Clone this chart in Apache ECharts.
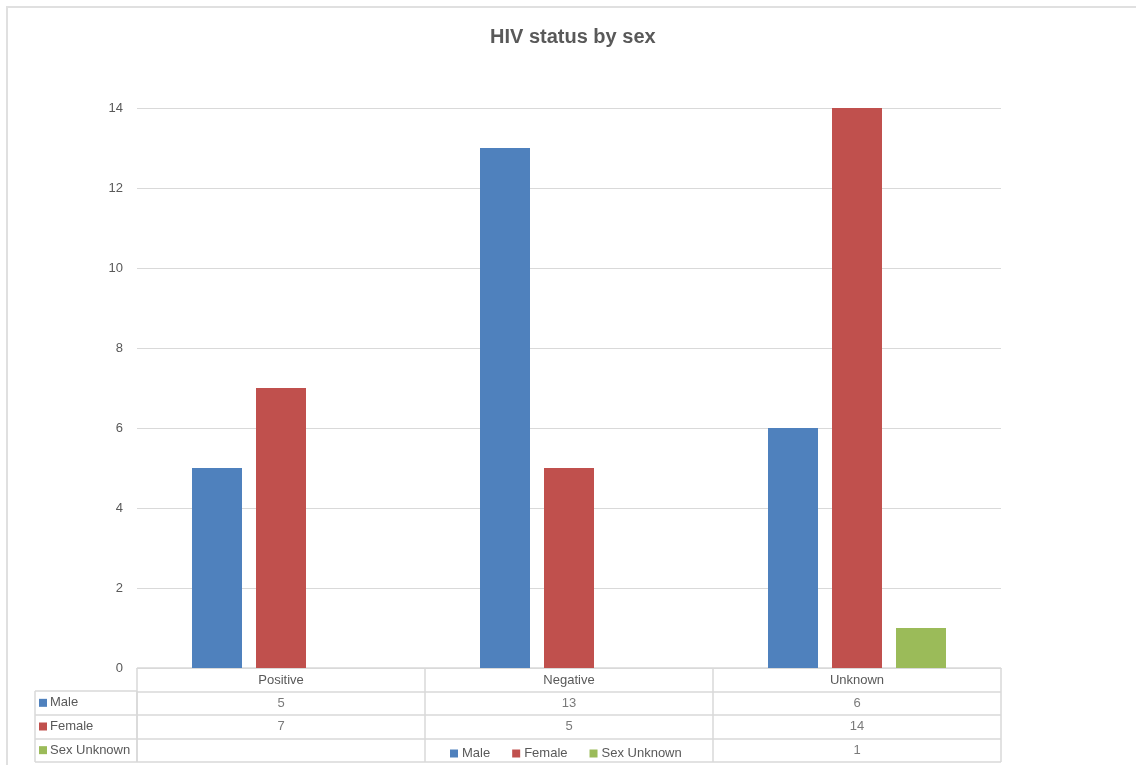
<!DOCTYPE html>
<html>
<head>
<meta charset="utf-8">
<script src="https://cdn.jsdelivr.net/npm/echarts@6/dist/echarts.min.js"></script>
<style>html,body{margin:0;padding:0;background:#fff}#c{width:1136px;height:765px}</style>
</head>
<body>
<div id="c"></div>
<script>
const titleText = 'HIV status by sex';
const categories = ['Positive', 'Negative', 'Unknown'];
const seriesNames = ['Male', 'Female', 'Sex Unknown'];
const male = [5, 13, 6];
const female = [7, 5, 14];
const sexUnknown = [null, null, 1];
const yTicks = [0, 2, 4, 6, 8, 10, 12, 14];

const colors = ['#4f81bd', '#c0504d', '#9bbb59'];
const values = [male, female, sexUnknown];
const txt = '#595959';
const lineC = '#d9d9d9';
const font = 'Liberation Sans';
const fs = 13;

const chart = echarts.init(document.getElementById('c'));

const barSeries = seriesNames.map((n, i) => ({
  name: n, type: 'bar', xAxisIndex: 0, yAxisIndex: 0,
  data: values[i], barWidth: 50, barGap: '28%',
  itemStyle: { color: colors[i] }, silent: true
}));

const tableSeries = seriesNames.map((n, i) => ({
  name: n + '_table', type: 'scatter', xAxisIndex: 1, yAxisIndex: 1,
  symbolSize: 0, silent: true,
  data: categories.map((c, j) => values[i][j] == null ? null : [c, n, values[i][j]]).filter(d => d),
  label: { show: true, position: 'inside', formatter: p => String(p.value[2]), color: txt, fontSize: fs, fontFamily: font }
}));

const rich = { t: { color: txt, fontSize: fs, fontFamily: font, padding: [0, 0, 0, 3] } };
seriesNames.forEach((n, i) => { rich['s' + i] = { width: 8, height: 8, backgroundColor: colors[i] }; });

chart.setOption({
  animation: false,
  title: { text: titleText, left: 485, top: 22,
    textStyle: { color: txt, fontSize: 20, fontWeight: 'bold', fontFamily: font } },
  legend: {
    data: seriesNames, left: 445, top: 742, icon: 'rect', itemWidth: 8, itemHeight: 8, itemGap: 22,
    textStyle: { color: txt, fontSize: fs, fontFamily: font, padding: [0, 0, 0, -1] }
  },
  graphic: [{ type: 'rect', shape: { x: 7, y: 7, width: 1300, height: 900 }, style: { fill: 'none', stroke: '#e0e0e0', lineWidth: 2 }, silent: true }],
  grid: [
    { left: 137, right: 135, top: 108, bottom: 97 },
    { left: 137, width: 864, top: 668, height: 94 },
    { left: 35, width: 102, top: 691, height: 71 }
  ],
  xAxis: [
    { type: 'category', gridIndex: 0, data: categories,
      axisLine: { lineStyle: { color: lineC } }, axisTick: { show: false },
      axisLabel: { color: txt, fontSize: fs, fontFamily: font, margin: 6 } },
    { type: 'category', gridIndex: 1, data: categories, boundaryGap: true,
      axisLine: { show: false }, axisTick: { show: false }, axisLabel: { show: false },
      splitLine: { show: true, lineStyle: { color: lineC, width: 1.5 } } },
    { type: 'value', gridIndex: 2, min: 0, max: 1, interval: 1,
      axisLine: { show: false }, axisTick: { show: false }, axisLabel: { show: false },
      splitLine: { show: true, lineStyle: { color: lineC, width: 1.5 } } }
  ],
  yAxis: [
    { type: 'value', gridIndex: 0, min: yTicks[0], max: yTicks[yTicks.length - 1], interval: 2,
      axisLine: { show: false }, axisTick: { show: false },
      axisLabel: { color: txt, fontSize: fs, fontFamily: font, margin: 14 },
      splitLine: { lineStyle: { color: lineC } } },
    { type: 'category', gridIndex: 1, data: [''].concat(seriesNames), inverse: true,
      axisLine: { show: false }, axisTick: { show: false }, axisLabel: { show: false },
      splitLine: { show: true, lineStyle: { color: lineC, width: 1.5 } } },
    { type: 'category', gridIndex: 2, data: seriesNames, inverse: true,
      axisLine: { show: false }, axisTick: { show: false },
      axisLabel: { inside: true, margin: 4, rich: rich,
        formatter: (v, idx) => '{s' + idx + '|}{t|' + v + '}' },
      splitLine: { show: true, lineStyle: { color: lineC, width: 1.5 } } }
  ],
  series: barSeries.concat(tableSeries)
});
</script>
</body>
</html>
